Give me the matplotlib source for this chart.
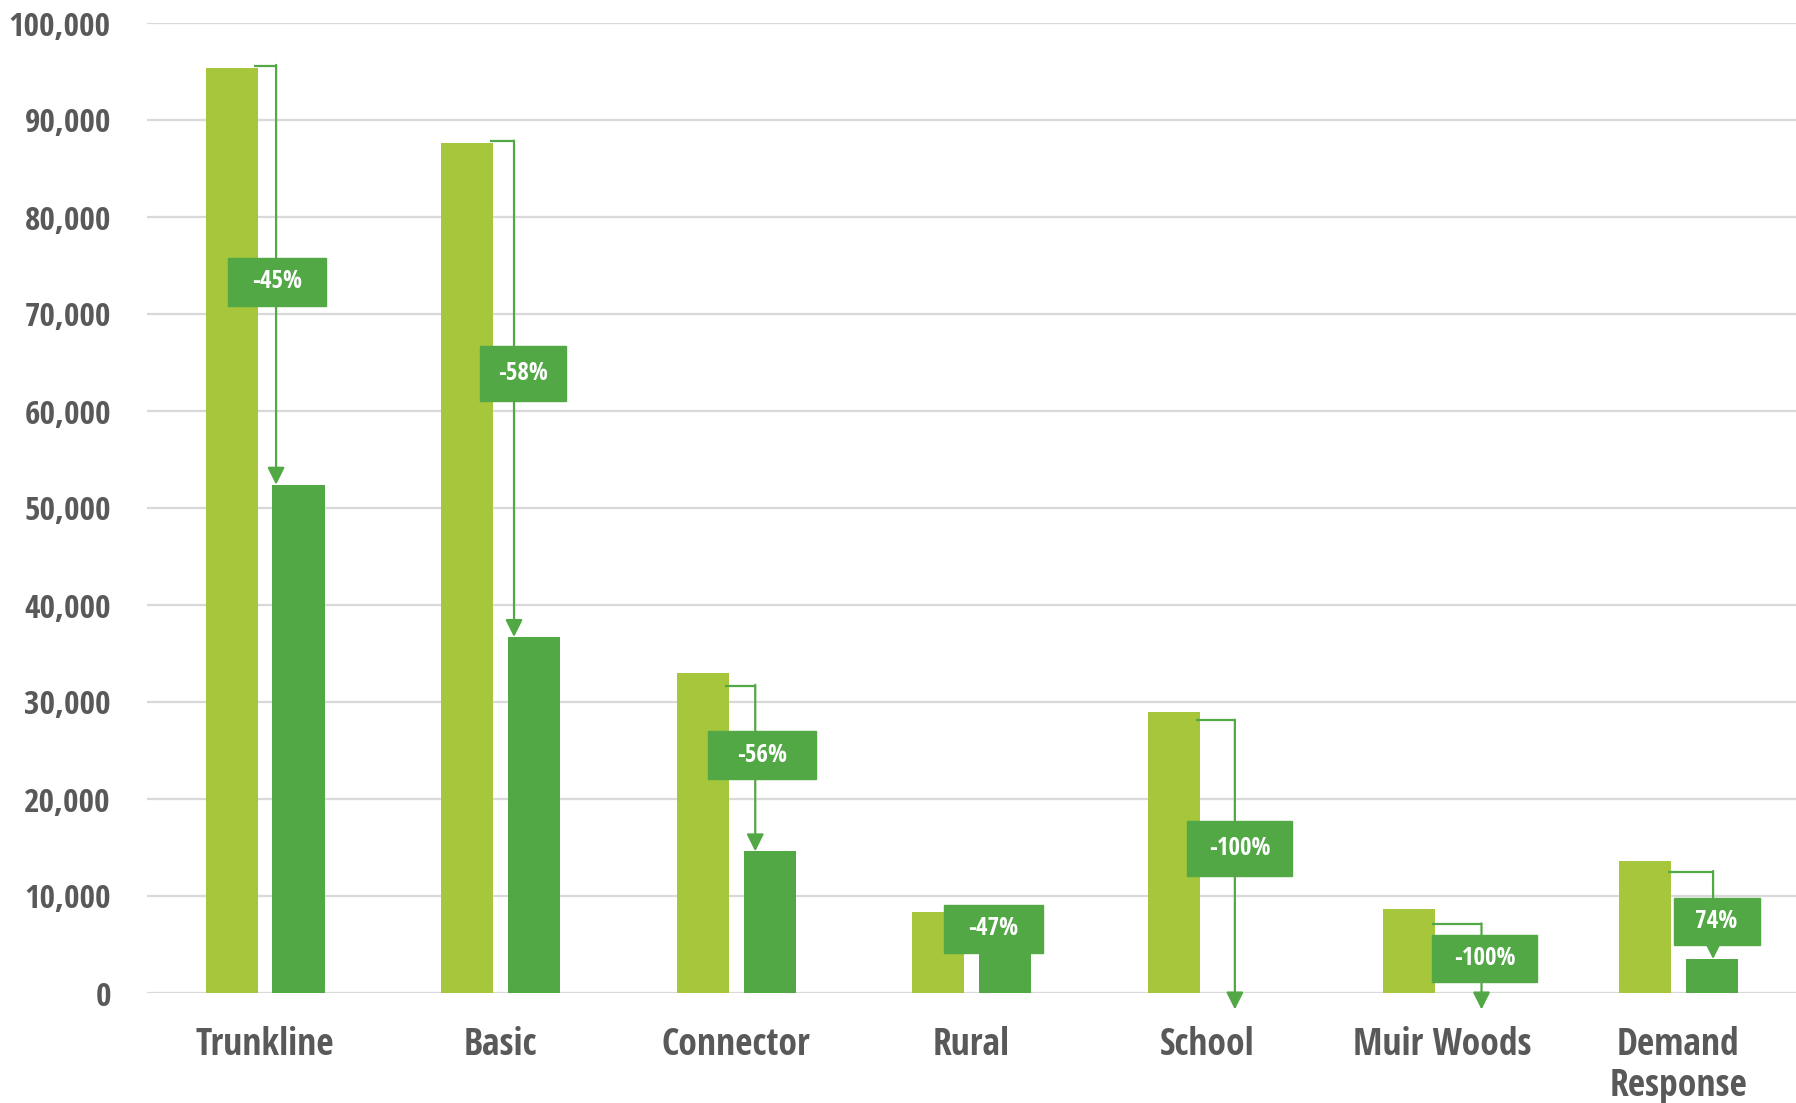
import matplotlib.pyplot as plt
from matplotlib.patches import Rectangle
from matplotlib.ticker import FuncFormatter
import numpy as np

plt.rcParams['font.family'] = ['Open Sans Condensed', 'IBM Plex Sans Condensed', 'DejaVu Sans']
plt.rcParams['font.weight'] = 'bold'

# data
categories = ['Trunkline', 'Basic', 'Connector', 'Rural', 'School', 'Muir Woods', 'Demand\nResponse']
before = [95400, 87600, 33000, 8300, 29000, 8700, 13600]
after = [52400, 36700, 14600, 4400, 0, 0, 3500]
change_labels = ['-45%', '-58%', '-56%', '-47%', '-100%', '-100%', '74%']
yticks = [0, 10000, 20000, 30000, 40000, 50000, 60000, 70000, 80000, 90000, 100000]

# annotation layout (category units / data units)
elbow_dx = [0.048, 0.058, 0.082, 0.10, 0.118, 0.165, 0.148]
elbow_dy = [200, 200, -1300, -1000, -900, -1600, -1100]
box_dx = [0.005, 0.037, 0.03, -0.007, 0.02, 0.013, 0.015]
box_dy = [-700, 1600, 1360, 770, 1700, 830, -650]
box_w = [0.415, 0.365, 0.457, 0.423, 0.443, 0.443, 0.365]
box_h = [5000, 5600, 4900, 4900, 5600, 4800, 4800]

light = '#A6C63B'
dark = '#53A846'
grey = '#595959'

fig = plt.figure(figsize=(17.96, 11.03), dpi=100)
ax = fig.add_axes([147/1796, 1 - 993/1103, 1 - 147/1796, (993 - 23)/1103])

x = np.arange(len(categories))
w = 0.221
ax.bar(x - 0.141, before, w, color=light, zorder=2)
ax.bar(x + 0.143, after, w, color=dark, zorder=2)

for i in range(len(categories)):
    xa = x[i] + elbow_dx[i]
    ys = before[i] + elbow_dy[i]
    tip = after[i] if after[i] > 0 else -1700
    # elbow connector from the old bar down to the new one
    ax.plot([x[i] - 0.045, xa], [ys, ys], color=dark, lw=1.6, zorder=3,
            solid_capstyle='butt', clip_on=False)
    ax.annotate('', xy=(xa, tip), xytext=(xa, ys + 80),
                arrowprops=dict(arrowstyle='-|>', color=dark, lw=1.6,
                                mutation_scale=26, shrinkA=0, shrinkB=0),
                zorder=3, annotation_clip=False)
    cy = (ys + tip) / 2 + box_dy[i]
    cx = xa + box_dx[i]
    bw, bh = box_w[i], box_h[i]
    ax.add_patch(Rectangle((cx - bw/2, cy - bh/2), bw, bh, color=dark, zorder=4, clip_on=False))
    ax.text(cx, cy, change_labels[i], color='white', fontsize=18, fontweight='bold',
            ha='center', va='center', zorder=5)

ax.set_xlim(-0.5, len(categories) - 0.5)
ax.set_ylim(0, 100000)
ax.set_yticks(yticks)
ax.yaxis.set_major_formatter(FuncFormatter(lambda v, p: f'{int(v):,}'))
ax.set_xticks(x)
ax.set_xticklabels(categories, linespacing=1.1)
ax.grid(axis='y', color='#d9d9d9', lw=1.6, zorder=0)
ax.set_axisbelow(True)
for s in ax.spines.values():
    s.set_visible(False)
ax.tick_params(axis='y', length=0, pad=26, labelsize=24, labelcolor=grey)
ax.tick_params(axis='x', length=0, pad=24, labelsize=27, labelcolor=grey)
for t in ax.get_xticklabels() + ax.get_yticklabels():
    t.set_fontweight('bold')

fig.savefig('out.png', dpi=100)
